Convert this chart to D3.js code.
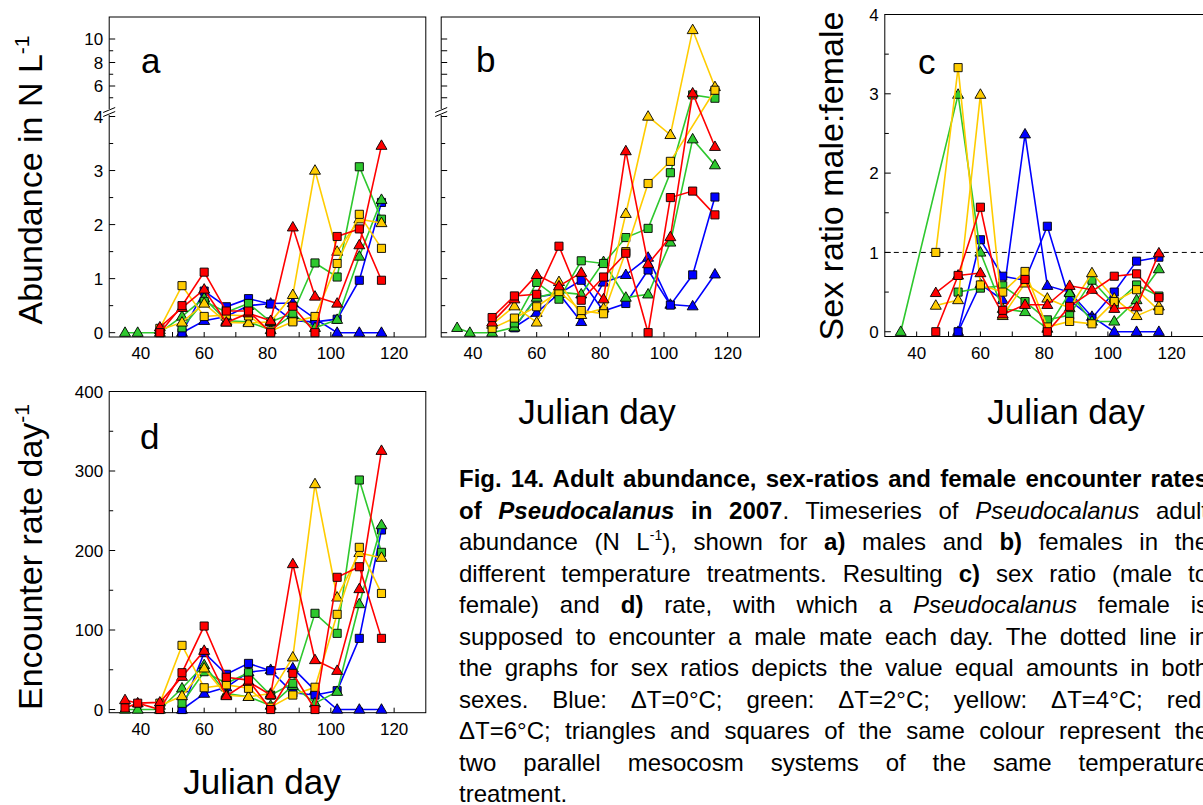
<!DOCTYPE html>
<html>
<head>
<meta charset="utf-8">
<script src="https://cdn.jsdelivr.net/npm/d3@7"></script>
<style>
html,body{margin:0;padding:0;background:#fff;overflow:hidden;width:1203px;height:805px;}
svg{position:absolute;left:0;top:0;}
</style>
</head>
<body>
<script>
// ---------------- DATA ----------------
const days = [35, 39, 46, 53, 60, 67, 74, 81, 88, 95, 102, 109, 116];

// a) male abundance (N L-1)
const aBlueTri   = [null, null, null, 0.00, 0.22, 0.30, 0.50, 0.54, 0.55, 0.26, 0.00, 0.00, 0.00];
const aBlueSq    = [null, null, null, 0.00, 0.77, 0.48, 0.63, 0.53, 0.22, 0.20, 0.25, 0.97, 2.41];
const aGreenTri  = [0.00, 0.00, 0.00, 0.30, 0.64, 0.22, 0.20, 0.05, 0.33, 0.09, 0.24, 1.41, 2.46];
const aGreenSq   = [null, null, null, 0.09, 0.58, 0.38, 0.54, 0.20, 0.36, 1.29, 1.03, 3.07, 2.10];
const aYellowTri = [null, null, 0.05, 0.19, 0.54, 0.19, 0.18, 0.20, 0.70, 3.00, 1.50, 2.10, 2.03];
const aYellowSq  = [null, null, 0.08, 0.87, 0.30, 0.33, 0.31, 0.03, 0.20, 0.30, 1.28, 2.19, 1.56];
const aRedTri    = [null, null, 0.10, 0.46, 0.80, 0.19, 0.36, 0.22, 1.95, 0.67, 0.54, 1.62, 3.46];
const aRedSq     = [null, null, 0.00, 0.50, 1.12, 0.40, 0.40, 0.00, 0.49, 0.00, 1.78, 1.92, 0.97];

// b) female abundance (N L-1)
const bBlueTri   = [null, null, null, 0.10, 0.37, 0.72, 0.20, 0.93, 1.07, 1.39, 0.52, 0.49, 1.08];
const bBlueSq    = [null, null, null, 0.09, 0.66, 0.72, 0.97, 0.40, 0.54, 1.16, 0.51, 1.07, 2.51];
const bGreenTri  = [0.09, 0.00, 0.00, 0.10, 0.65, 0.75, 0.71, 1.31, 0.65, 0.71, 1.67, 3.58, 3.10];
const bGreenSq   = [null, null, null, 0.18, 0.93, 0.62, 1.33, 1.28, 1.76, 1.93, 2.96, 5.24, 4.96];
const bYellowTri = [null, null, 0.15, 0.49, 0.19, 0.94, 0.33, 0.45, 2.20, 4.00, 3.66, 10.77, 5.92];
const bYellowSq  = [null, null, 0.08, 0.27, 0.48, 0.76, 0.41, 0.35, 1.50, 2.76, 3.17, null, 5.64];
const bRedTri    = [null, null, 0.19, 0.62, 1.07, 0.86, 1.11, 0.62, 3.36, 1.27, 1.77, 5.38, 3.44];
const bRedSq     = [null, null, 0.28, 0.68, 0.71, 1.60, 0.60, 1.03, 1.47, 0.00, 2.50, 2.62, 2.18];

// c) sex ratio male:female
const cBlueTri   = [null, null, null, 0.00, 0.60, 0.40, 2.49, 0.58, 0.50, 0.19, 0.00, 0.00, 0.00];
const cBlueSq    = [null, null, null, 0.00, 1.16, 0.70, 0.65, 1.33, 0.40, 0.17, 0.50, 0.89, 0.94];
const cGreenTri  = [0.00, null, null, 2.99, 1.00, 0.29, 0.25, 0.04, 0.49, 0.13, 0.13, 0.40, 0.79];
const cGreenSq   = [null, null, null, 0.50, 0.55, 0.58, 0.38, 0.15, 0.21, 0.65, 0.34, 0.59, 0.45];
const cYellowTri = [null, null, 0.33, 0.40, 2.99, 0.20, 0.61, 0.42, 0.30, 0.74, 0.42, 0.20, 0.32];
const cYellowSq  = [null, null, 1.00, 3.33, 0.59, 0.50, 0.76, 0.06, 0.13, 0.10, 0.38, 0.53, 0.27];
const cRedTri    = [null, null, 0.49, 0.71, 0.74, 0.22, 0.34, 0.34, 0.58, 0.53, 0.29, 0.31, 0.99];
const cRedSq     = [null, null, 0.00, 0.71, 1.57, 0.27, 0.66, 0.00, 0.32, null, 0.70, 0.73, 0.43];

// d) encounter rate day-1
const dBlueTri   = [null, null, null, 0, 20, 28, 47, 50, 52, 24, 0, 0, 0];
const dBlueSq    = [null, null, null, 0, 71.5, 44.3, 58, 48.8, 21, 18.2, 23.7, 89.5, 225.8];
const dGreenTri  = [0, 0, 0, 26.7, 56, 20, 16, 5, 30, 8, 22.4, 132.7, 232];
const dGreenSq   = [null, null, null, 7.8, 47.6, 33, 46.3, 18, 33, 121, 95.8, 288.7, 197.7];
const dYellowTri = [null, null, 5, 17, 51.8, 18, 16, 20, 65.7, 283.6, 141, 197, 191];
const dYellowSq  = [null, null, 8, 80.7, 27.4, 31, 26.7, 3, 18.2, 28, 119.7, 204, 146];
const dRedTri    = [12, 8, 9, 41.3, 74, 17, 35, 18.2, 183, 62.3, 48.8, 151.6, 325.5];
const dRedSq     = [2, 8, 0, 46.3, 105, 40.5, 37, 0, 45.5, 0, 166.3, 179.6, 89.5];

// ticks
const xTickValues = [40, 50, 60, 70, 80, 90, 100, 110, 120];
const xTickLabels = [40, 60, 80, 100, 120];
const abLowMajor = [0, 1, 2, 3, 4];
const abLowMinor = [0.5, 1.5, 2.5, 3.5];
const aHighLabels = [6, 8, 10];
const aHighMinor = [5, 7, 9];
const bHighTicks = [5, 6, 7, 8, 9, 10];
const cMajor = [0, 1, 2, 3, 4];
const cMinor = [0.5, 1.5, 2.5, 3.5];
const dMajor = [0, 100, 200, 300, 400];
const dMinor = [50, 150, 250, 350];

const captionLines = [
  [{t:"Fig. 14. Adult abundance, sex-ratios and female encounter rates", b:1}],
  [{t:"of ", b:1},{t:"Pseudocalanus", b:1, i:1},{t:" in 2007", b:1},{t:". Timeseries of "},{t:"Pseudocalanus", i:1},{t:" adult"}],
  [{t:"abundance (N L"},{t:"-1", sup:1},{t:"), shown for "},{t:"a)", b:1},{t:" males and "},{t:"b)", b:1},{t:" females in the"}],
  [{t:"different temperature treatments. Resulting "},{t:"c)", b:1},{t:" sex ratio (male to"}],
  [{t:"female) and "},{t:"d)", b:1},{t:" rate, with which a "},{t:"Pseudocalanus", i:1},{t:" female is"}],
  [{t:"supposed to encounter a male mate each day. The dotted line in"}],
  [{t:"the graphs for sex ratios depicts the value equal amounts in both"}],
  [{t:"sexes. Blue: \u0394T=0\u00b0C; green: \u0394T=2\u00b0C; yellow: \u0394T=4\u00b0C; red:"}],
  [{t:"\u0394T=6\u00b0C; triangles and squares of the same colour represent the"}],
  [{t:"two parallel mesocosm systems of the same temperature"}],
  [{t:"treatment."}]
];

// ---------------- DRAWING ----------------
const COL = {blue:"#0000ff", green:"#2ec82e", yellow:"#ffcc00", red:"#ff0000"};
const FONT = "'Liberation Sans', Arial, Helvetica, sans-serif";

function makeSeries(bt, bs, gt, gs, yt, ys, rt, rs) {
  return [
    {c:COL.blue, s:"tri", v:bt}, {c:COL.blue, s:"sq", v:bs},
    {c:COL.green, s:"tri", v:gt}, {c:COL.green, s:"sq", v:gs},
    {c:COL.yellow, s:"tri", v:yt}, {c:COL.yellow, s:"sq", v:ys},
    {c:COL.red, s:"tri", v:rt}, {c:COL.red, s:"sq", v:rs}
  ];
}

const svg = d3.select("body").append("svg").attr("width", 1203).attr("height", 805);

function drawPanel(p) {
  const g = svg.append("g");
  const x = d3.scaleLinear().domain([30, 130]).range([p.x0, p.x1]);
  const y = p.y;
  g.append("rect").attr("x", p.x0).attr("y", p.yTop).attr("width", p.x1 - p.x0).attr("height", p.yBot - p.yTop)
    .attr("fill", "none").attr("stroke", "#000").attr("stroke-width", 1);
  g.selectAll(".xt").data(xTickValues).join("line")
    .attr("x1", d => x(d)).attr("x2", d => x(d)).attr("y1", p.yBot).attr("y2", p.yBot - 5)
    .attr("stroke", "#000").attr("stroke-width", 1);
  g.selectAll(".xl").data(xTickLabels).join("text")
    .attr("x", d => x(d)).attr("y", p.yBot + 22).attr("text-anchor", "middle")
    .attr("font-family", FONT).attr("font-size", 17).text(d => d);
  p.yTicks.forEach(t => {
    g.append("line").attr("x1", p.x0).attr("x2", p.x0 + (t.minor ? 4 : 6))
      .attr("y1", t.py).attr("y2", t.py).attr("stroke", "#000").attr("stroke-width", 1);
    if (t.label !== undefined) {
      g.append("text").attr("x", p.x0 - 6).attr("y", t.py).attr("dy", "0.36em")
        .attr("text-anchor", "end").attr("font-family", FONT).attr("font-size", 17).text(t.label);
    }
  });
  if (p.brk) {
    const yb = p.brk;
    g.append("rect").attr("x", p.x0 - 2).attr("y", yb - 3.5).attr("width", 4).attr("height", 6).attr("fill", "#fff");
    [-2.5, 1.5].forEach(o => g.append("line")
      .attr("x1", p.x0 - 6).attr("y1", yb + o + 2.5).attr("x2", p.x0 + 6).attr("y2", yb + o - 2.5)
      .attr("stroke", "#000").attr("stroke-width", 1));
  }
  if (p.dash !== undefined) {
    g.append("line").attr("x1", p.x0).attr("x2", p.x1).attr("y1", y(p.dash)).attr("y2", y(p.dash))
      .attr("stroke", "#000").attr("stroke-width", 1).attr("stroke-dasharray", "5,4");
  }
  const line = d3.line().x(d => x(d.day)).y(d => y(d.val));
  const tri = d3.symbol(d3.symbolTriangle, 52)();
  const sq = d3.symbol(d3.symbolSquare, 66)();
  p.series.forEach(s => {
    const pts = days.map((dd, i) => ({day: dd, val: s.v[i]})).filter(d => d.val !== null && d.val !== undefined);
    g.append("path").attr("d", line(pts)).attr("fill", "none").attr("stroke", s.c).attr("stroke-width", 1.6);
    g.selectAll(null).data(pts).join("path")
      .attr("d", s.s === "tri" ? tri : sq)
      .attr("transform", d => `translate(${x(d.day)},${y(d.val) + (s.s === "tri" ? 0.5 : 0)})`)
      .attr("fill", s.c).attr("stroke", "#000").attr("stroke-width", 0.9);
  });
  g.append("text").attr("x", p.lx).attr("y", p.ly).attr("font-family", FONT).attr("font-size", 35).text(p.letter);
}

const yLowAB = d3.scaleLinear().domain([-0.08, 4]).range([337, 116.5]);
const yHighAB = d3.scaleLinear().domain([4, 12]).range([109.5, 15.5]);
const yAB = v => (v <= 4.001 ? yLowAB(v) : yHighAB(v));

function abTicks(withLabels, highMajor, highMinor) {
  const t = [];
  abLowMajor.forEach(v => t.push({py: yLowAB(v), label: withLabels ? v : undefined}));
  abLowMinor.forEach(v => t.push({py: yLowAB(v), minor: true}));
  highMajor.forEach(v => t.push({py: yHighAB(v), label: withLabels ? v : undefined}));
  highMinor.forEach(v => t.push({py: yHighAB(v), minor: true}));
  return t;
}

drawPanel({x0: 109.2, x1: 425.8, yTop: 17, yBot: 337, y: yAB, brk: 112.5,
  yTicks: abTicks(true, aHighLabels, aHighMinor),
  series: makeSeries(aBlueTri, aBlueSq, aGreenTri, aGreenSq, aYellowTri, aYellowSq, aRedTri, aRedSq),
  letter: "a", lx: 141, ly: 73});

drawPanel({x0: 441.2, x1: 759.5, yTop: 17, yBot: 337, y: yAB, brk: 112.5,
  yTicks: abTicks(false, bHighTicks, []),
  series: makeSeries(bBlueTri, bBlueSq, bGreenTri, bGreenSq, bYellowTri, bYellowSq, bRedTri, bRedSq),
  letter: "b", lx: 476, ly: 72});

const yC = d3.scaleLinear().domain([-0.06, 4]).range([336.5, 14.5]);
drawPanel({x0: 884.8, x1: 1203.5, yTop: 14.5, yBot: 336.5, y: yC, dash: 1,
  yTicks: cMajor.map(v => ({py: yC(v), label: v})).concat(cMinor.map(v => ({py: yC(v), minor: true}))),
  series: makeSeries(cBlueTri, cBlueSq, cGreenTri, cGreenSq, cYellowTri, cYellowSq, cRedTri, cRedSq),
  letter: "c", lx: 918, ly: 74});

const yD = d3.scaleLinear().domain([-4, 400]).range([712.7, 391.5]);
drawPanel({x0: 109.2, x1: 425.8, yTop: 391.5, yBot: 712.7, y: yD,
  yTicks: dMajor.map(v => ({py: yD(v), label: v})).concat(dMinor.map(v => ({py: yD(v), minor: true}))),
  series: makeSeries(dBlueTri, dBlueSq, dGreenTri, dGreenSq, dYellowTri, dYellowSq, dRedTri, dRedSq),
  letter: "d", lx: 140, ly: 449});

function vTitle(x, y, main, sup) {
  const t = svg.append("text").attr("transform", `translate(${x},${y}) rotate(-90)`)
    .attr("text-anchor", "middle").attr("font-family", FONT).attr("font-size", 34);
  t.append("tspan").text(main);
  if (sup) t.append("tspan").attr("font-size", 21).attr("dy", -13).text(sup);
}
vTitle(42, 180, "Abundance in N L", "-1");
vTitle(42, 557, "Encounter rate day", "-1");
vTitle(843, 176, "Sex ratio male:female");

[[597, 424], [1066, 424], [262, 794]].forEach(([cx, cy]) =>
  svg.append("text").attr("x", cx).attr("y", cy).attr("text-anchor", "middle")
    .attr("font-family", FONT).attr("font-size", 35).text("Julian day"));

// caption (justified lines)
const CAPX = 459, CAPW = 749, CAPY0 = 487, CAPDY = 31.5;
captionLines.forEach((segs, li) => {
  const t = svg.append("text").attr("x", 0).attr("y", 0)
    .attr("transform", `translate(${CAPX},${CAPY0 + li * CAPDY})`)
    .attr("font-family", FONT).attr("font-size", 24).attr("xml:space", "preserve");
  let pendingDy = 0;
  segs.forEach(s => {
    const ts = t.append("tspan").text(s.t);
    if (s.b) ts.attr("font-weight", "bold");
    if (s.i) ts.attr("font-style", "italic");
    if (s.sup) { ts.attr("font-size", 14).attr("dy", -10); pendingDy = 10; }
    else if (pendingDy) { ts.attr("dy", pendingDy); pendingDy = 0; }
  });
  if (li < captionLines.length - 1) {
    const w = t.node().getComputedTextLength();
    const txt = segs.map(s => s.t).join("");
    const n = (txt.match(/ /g) || []).length;
    if (w >= CAPW) {
      t.attr("transform", `translate(${CAPX},${CAPY0 + li * CAPDY}) scale(${CAPW / w},1)`);
    } else if (n > 0) {
      t.attr("word-spacing", ((CAPW - w) / n) + "px");
    }
  }
});
</script>
</body>
</html>
